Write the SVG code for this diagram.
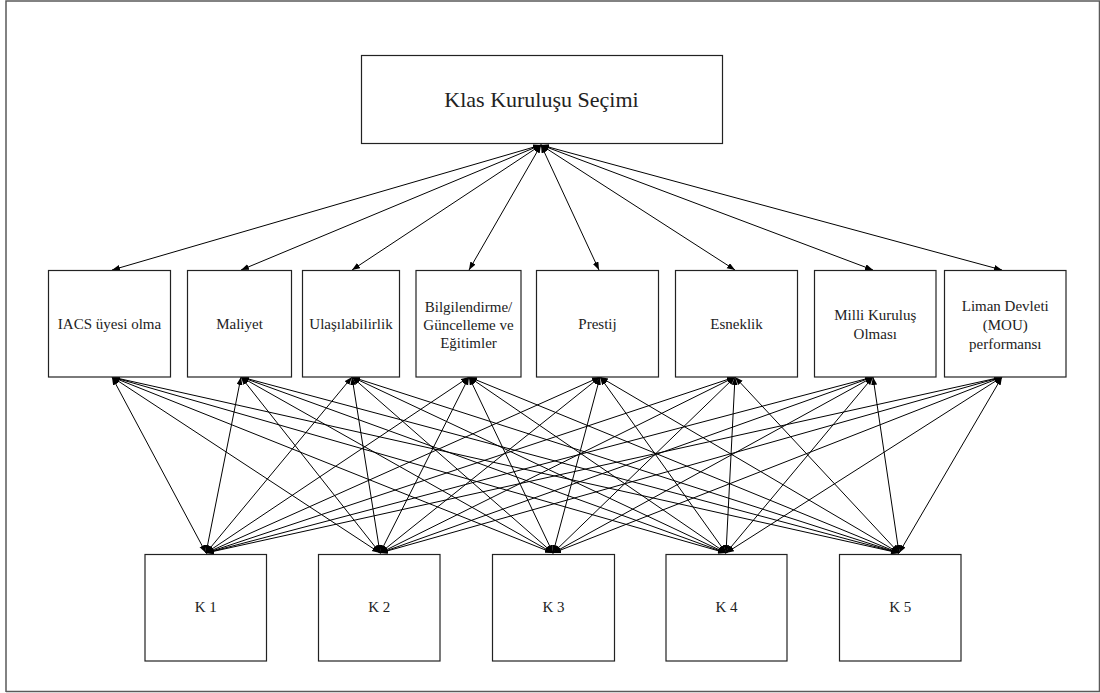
<svg xmlns="http://www.w3.org/2000/svg" width="1100" height="693" viewBox="0 0 1100 693">
<style>
.frame{fill:none;stroke:#5a5a5a;stroke-width:1.5}
.box{fill:#fff;stroke:#222;stroke-width:1.2}
.lbl{font-family:"Liberation Serif","Times New Roman",serif;font-size:15px;fill:#222;text-anchor:middle}
.title{font-size:22px}
.con line{stroke:#000;stroke-width:1;marker-start:url(#ah);marker-end:url(#ah)}
</style>
<defs>
<marker id="ah" markerUnits="userSpaceOnUse" markerWidth="9" markerHeight="7" refX="8" refY="3" orient="auto-start-reverse">
<path d="M0,0 L8,3 L0,6 z" fill="#000"/>
</marker>
</defs>
<rect width="1100" height="693" fill="#fff"/>
<path class="frame" d="M6,692 L6,1 L1099.5,1 L1099.5,691.5 L6,691.5"/>

<g id="connectors" class="con">
<line x1="541" y1="145" x2="112" y2="270"/>
<line x1="541" y1="145" x2="241" y2="270"/>
<line x1="541" y1="145" x2="352" y2="270"/>
<line x1="541" y1="145" x2="469" y2="270"/>
<line x1="541" y1="145" x2="599" y2="270"/>
<line x1="541" y1="145" x2="735" y2="270"/>
<line x1="541" y1="145" x2="873" y2="270"/>
<line x1="541" y1="145" x2="1002" y2="270"/>

<line x1="112" y1="377" x2="206" y2="553"/>
<line x1="112" y1="377" x2="380" y2="553"/>
<line x1="112" y1="377" x2="553" y2="553"/>
<line x1="112" y1="377" x2="726" y2="553"/>
<line x1="112" y1="377" x2="899" y2="553"/>
<line x1="241" y1="377" x2="206" y2="553"/>
<line x1="241" y1="377" x2="380" y2="553"/>
<line x1="241" y1="377" x2="553" y2="553"/>
<line x1="241" y1="377" x2="726" y2="553"/>
<line x1="241" y1="377" x2="899" y2="553"/>
<line x1="352" y1="377" x2="206" y2="553"/>
<line x1="352" y1="377" x2="380" y2="553"/>
<line x1="352" y1="377" x2="553" y2="553"/>
<line x1="352" y1="377" x2="726" y2="553"/>
<line x1="352" y1="377" x2="899" y2="553"/>
<line x1="469" y1="377" x2="206" y2="553"/>
<line x1="469" y1="377" x2="380" y2="553"/>
<line x1="469" y1="377" x2="553" y2="553"/>
<line x1="469" y1="377" x2="726" y2="553"/>
<line x1="469" y1="377" x2="899" y2="553"/>
<line x1="600" y1="377" x2="206" y2="553"/>
<line x1="600" y1="377" x2="380" y2="553"/>
<line x1="600" y1="377" x2="553" y2="553"/>
<line x1="600" y1="377" x2="726" y2="553"/>
<line x1="600" y1="377" x2="899" y2="553"/>
<line x1="735" y1="377" x2="206" y2="553"/>
<line x1="735" y1="377" x2="380" y2="553"/>
<line x1="735" y1="377" x2="553" y2="553"/>
<line x1="735" y1="377" x2="726" y2="553"/>
<line x1="735" y1="377" x2="899" y2="553"/>
<line x1="873" y1="377" x2="206" y2="553"/>
<line x1="873" y1="377" x2="380" y2="553"/>
<line x1="873" y1="377" x2="553" y2="553"/>
<line x1="873" y1="377" x2="726" y2="553"/>
<line x1="873" y1="377" x2="899" y2="553"/>
<line x1="1002" y1="377" x2="206" y2="553"/>
<line x1="1002" y1="377" x2="380" y2="553"/>
<line x1="1002" y1="377" x2="553" y2="553"/>
<line x1="1002" y1="377" x2="726" y2="553"/>
<line x1="1002" y1="377" x2="899" y2="553"/>
</g>

<g id="goal"><rect class="box" x="361.5" y="55.5" width="361" height="88"/><text class="lbl title" x="541.5" y="107">Klas Kuruluşu Seçimi</text></g>

<g id="c1"><rect class="box" x="48.5" y="270.5" width="122" height="106.5"/><text class="lbl" x="109.5" y="329">IACS üyesi olma</text></g>
<g id="c2"><rect class="box" x="187.5" y="270.5" width="104" height="106.5"/><text class="lbl" x="239.5" y="329">Maliyet</text></g>
<g id="c3"><rect class="box" x="302.5" y="270.5" width="97" height="106.5"/><text class="lbl" x="351" y="329">Ulaşılabilirlik</text></g>
<g id="c4"><rect class="box" x="416" y="270.5" width="105" height="106.5"/><text class="lbl" x="468.5" y="312">Bilgilendirme/</text><text class="lbl" x="468.5" y="330">Güncelleme ve</text><text class="lbl" x="468.5" y="348">Eğitimler</text></g>
<g id="c5"><rect class="box" x="536.5" y="270.5" width="122" height="106.5"/><text class="lbl" x="597.5" y="329">Prestij</text></g>
<g id="c6"><rect class="box" x="675.5" y="270.5" width="122" height="106.5"/><text class="lbl" x="736.5" y="329">Esneklik</text></g>
<g id="c7"><rect class="box" x="814.5" y="270.5" width="121.5" height="106.5"/><text class="lbl" x="875.25" y="320">Milli Kuruluş</text><text class="lbl" x="875.25" y="338.5">Olması</text></g>
<g id="c8"><rect class="box" x="944.5" y="270.5" width="121.5" height="106.5"/><text class="lbl" x="1005.25" y="311">Liman Devleti</text><text class="lbl" x="1005.25" y="330">(MOU)</text><text class="lbl" x="1005.25" y="348.5">performansı</text></g>

<g id="k1"><rect class="box" x="145" y="554.5" width="121.5" height="106.5"/><text class="lbl" x="205.75" y="612">K 1</text></g>
<g id="k2"><rect class="box" x="318.5" y="554.5" width="121.5" height="106.5"/><text class="lbl" x="379.25" y="612">K 2</text></g>
<g id="k3"><rect class="box" x="492.5" y="554.5" width="122" height="106.5"/><text class="lbl" x="553.5" y="612">K 3</text></g>
<g id="k4"><rect class="box" x="666" y="554.5" width="121" height="106.5"/><text class="lbl" x="726.5" y="612">K 4</text></g>
<g id="k5"><rect class="box" x="839.5" y="554.5" width="121.5" height="106.5"/><text class="lbl" x="900.25" y="612">K 5</text></g>
</svg>
